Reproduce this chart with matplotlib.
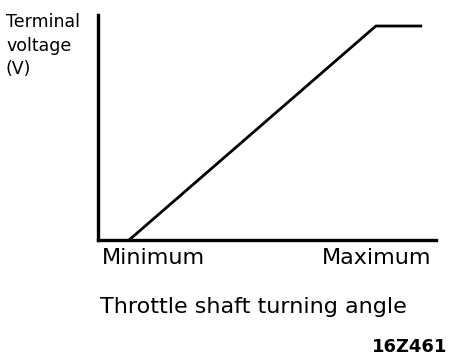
import matplotlib
matplotlib.use("Agg")
from matplotlib import pyplot as plt

# throttle angle (fraction of axis) vs terminal voltage (fraction of axis)
angle = [0.092, 0.822, 0.959]
voltage = [0.0, 0.951, 0.951]
tick_pos = [0.164, 0.824]
tick_labels = ["Minimum", "Maximum"]

plt.rcParams['font.family'] = ['DejaVu Sans']

fig = plt.figure(figsize=(4.64, 3.6), dpi=100)
ax = fig.add_axes([98/464, 120/360, 338/464, 225/360])
ax.plot(angle, voltage, color='black', lw=2.0, solid_capstyle='butt')
ax.set_xlim(0, 1)
ax.set_ylim(0, 1)
for s in ['top', 'right']:
    ax.spines[s].set_visible(False)
for s in ['left', 'bottom']:
    ax.spines[s].set_linewidth(2.4)
ax.set_yticks([])
ax.set_xticks(tick_pos)
ax.set_xticklabels(tick_labels, fontsize=16)
ax.tick_params(axis='x', length=0, pad=6)

fig.text(6/464, 1 - 13/360, "Terminal\nvoltage\n(V)", fontsize=12.5, va='top', ha='left',
         linespacing=1.4)
fig.text(253/464, 1 - 307/360, "Throttle shaft turning angle", fontsize=16,
         ha='center', va='center')
fig.text(447/464, 1 - 347/360, "16Z461", fontsize=13, fontweight='bold',
         ha='right', va='center')

fig.savefig("out.png", dpi=100)
